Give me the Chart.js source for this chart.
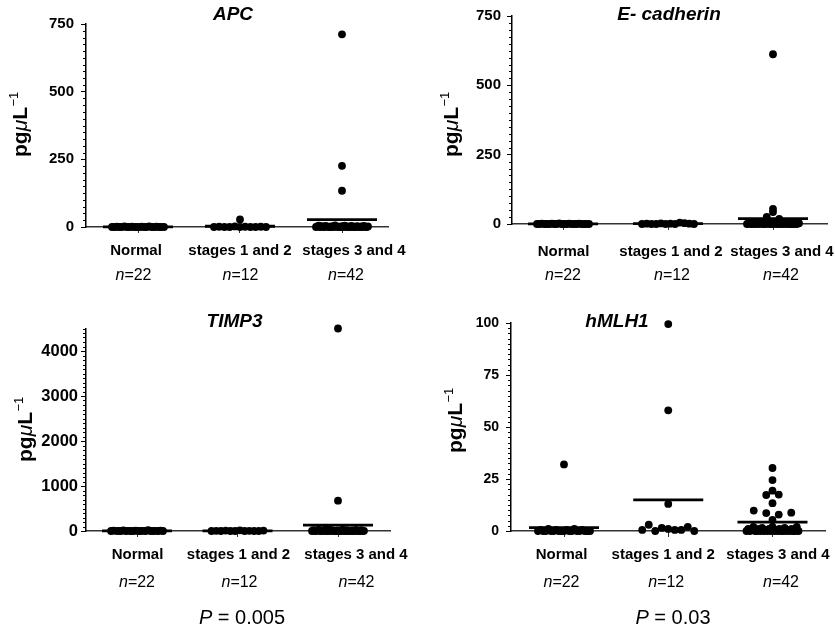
<!DOCTYPE html>
<html><head><meta charset="utf-8">
<script src="https://cdn.jsdelivr.net/npm/chart.js@4.4.1/dist/chart.umd.min.js"></script>
<style>
html,body{margin:0;padding:0;background:#fff}
body{width:835px;height:629px;position:relative;overflow:hidden}
canvas{position:absolute}
</style></head><body>
<canvas id="cAPC" width="420" height="290" style="left:0;top:0;width:420px;height:290px"></canvas>
<canvas id="cECAD" width="415" height="290" style="left:420px;top:0;width:415px;height:290px"></canvas>
<canvas id="cTIMP" width="420" height="339" style="left:0;top:290px;width:420px;height:339px"></canvas>
<canvas id="cHMLH" width="415" height="339" style="left:420px;top:290px;width:415px;height:339px"></canvas>
<script>
// ---------- data ----------
const categories = ['Normal', 'stages 1 and 2', 'stages 3 and 4'];
const nLabels = ['22', '12', '42'];

const apcTicks = [0, 250, 500, 750];
const apcNormal = [0,0,1,0,0,2,0,0,1,0,0,0,1,0,0,2,0,0,1,0,0,0];
const apcStage12 = [0,1,0,0,2,0,1,0,0,28,1,0];
const apcStage34 = [712,226,134,0,2,5,0,3,1,0,4,2,0,1,0,3,0,6,2,0,1,0,3,0,5,1,0,2,0,4,0,1,0,3,1,0,2,0,4,1,0,2];

const ecadTicks = [0, 250, 500, 750];
const ecadNormal = [0,0,1,0,0,0,1,0,0,2,0,0,0,1,0,0,0,1,0,0,0,0];
const ecadStage12 = [0,1,0,0,2,0,1,0,5,3,1,0];
const ecadStage34 = [612,54,43,26,18,0,2,1,0,3,0,1,2,0,4,1,0,2,0,5,1,0,3,0,1,2,0,1,0,3,0,2,1,0,4,0,1,0,2,0,1,3];

const timpTicks = [0, 1000, 2000, 3000, 4000];
const timpNormal = [0,10,5,0,0,15,0,5,0,0,10,0,0,5,0,20,0,0,5,0,10,0];
const timpStage12 = [0,5,0,10,0,0,15,0,5,0,0,10];
const timpStage34 = [4500,673,0,20,5,0,15,30,0,10,0,25,5,0,40,0,10,20,0,5,0,15,0,10,0,30,5,0,20,0,10,0,15,0,5,25,0,10,0,20,0,5];

const hmlhTicks = [0, 25, 50, 75, 100];
const hmlhNormal = [0,0.5,0,0,1,0,0,0.5,0,0,32,0,0.5,0,0,1,0,0,0.5,0,0,0];
const hmlhStage12 = [99.5,58,13,0.5,3,0,1.5,1,0.5,0.5,2,0];
const hmlhStage34 = [30.3,24.5,19.4,17.3,17.5,13.4,9.8,8.6,7.9,8.8,5.3,0,1,0,0.5,2,0,0,1,0,1.5,0,0.5,0,1,0,2,0,0.5,0,1,0,0,1.5,0,0.5,0,1,0,0,2,0];

// ---------- layout ----------
const FONT = '"Liberation Sans", Arial, Helvetica, sans-serif';
const GAP_PX = 2.8, STEP_PX = 12.5, HALF_PX = 26, MEAN_HALF_PX = 35;

const panels = [
  { canvas:'cAPC', x0:0, y0:0, title:'APC', titleX:233, titleY:20,
    groups:[apcNormal, apcStage12, apcStage34], yMax:750, yTicks:apcTicks, minor:25,
    left:86, right:388, top:24, bottom:227, cat1:138, sp:102,
    tickFont:15, tickPad:7, catFont:15, catY:255, catOff:[-2,0,12], nY:280, nOff:[-4.5,0.5,4],
    yTitleX:27, yTitleY:157 },
  { canvas:'cECAD', x0:420, y0:0, title:'E- cadherin', titleX:669, titleY:19.5,
    groups:[ecadNormal, ecadStage12, ecadStage34], yMax:750, yTicks:ecadTicks, minor:25,
    left:512, right:827, top:16, bottom:224, cat1:563, sp:105,
    tickFont:15, tickPad:6, catFont:15, catY:256, catOff:[0.5,3,9], nY:280, nOff:[0,4,8],
    yTitleX:458, yTitleY:157 },
  { canvas:'cTIMP', x0:0, y0:290, title:'TIMP3', titleX:234.5, titleY:327,
    groups:[timpNormal, timpStage12, timpStage34], yMax:4500, yTicks:timpTicks, minor:100,
    left:86, right:390, top:328.5, bottom:531, cat1:137, sp:100.5,
    tickFont:16.5, tickPad:3, catFont:15, catY:559, catOff:[0.5,1,18], nY:587, nOff:[0,2,18.5],
    yTitleX:32, yTitleY:462, pText:'0.005', pX:242, pY:624 },
  { canvas:'cHMLH', x0:420, y0:290, title:'hMLH1', titleX:617, titleY:327,
    groups:[hmlhNormal, hmlhStage12, hmlhStage34], yMax:100, yTicks:hmlhTicks, minor:2.5,
    left:511, right:825, top:323, bottom:531, cat1:564, sp:104.25,
    tickFont:14, tickPad:7, catFont:15, catY:559, catOff:[-2.5,-5,5.5], nY:587, nOff:[-2.5,-2,8.5],
    yTitleX:462, yTitleY:453, pText:'0.03', pX:673, pY:624 }
];
const panelById = {};
panels.forEach(p => panelById[p.canvas] = p);

// column-scatter layout: points at similar values share a row and are spread sideways
function layoutGroup(values, center, pxPerCat, pxPerVal) {
  const idx = values.map((v, i) => i).sort((a, b) => values[a] - values[b] || a - b);
  const rows = []; let cur = []; let prev = null;
  idx.forEach(i => {
    if (prev !== null && (values[i] - prev) * pxPerVal > GAP_PX) { rows.push(cur); cur = []; }
    cur.push(i); prev = values[i];
  });
  if (cur.length) rows.push(cur);
  const xs = new Array(values.length);
  rows.forEach(r => {
    r.sort((a, b) => a - b);
    const k = r.length;
    const sp = k > 1 ? Math.min(STEP_PX, 2 * HALF_PX / (k - 1)) : 0;
    r.forEach((i, j) => { xs[i] = center + ((j - (k - 1) / 2) * sp) / pxPerCat; });
  });
  return values.map((v, i) => ({ x: xs[i], y: v }));
}

const textPlugin = {
  id: 'panelText',
  afterDraw(chart) {
    const p = panelById[chart.canvas.id];
    const ctx = chart.ctx, xs = chart.scales.x, ys = chart.scales.y;
    const ox = p.x0, oy = p.y0;
    ctx.save();
    // minor y ticks
    ctx.strokeStyle = '#000'; ctx.lineWidth = 1;
    const nMinor = Math.round(p.yMax / p.minor);
    for (let i = 0; i <= nMinor; i++) {
      const v = i * p.minor;
      if (p.yTicks.some(t => Math.abs(t - v) < 1e-6)) continue;
      const y = Math.round(ys.getPixelForValue(v)) + 0.5;
      ctx.beginPath(); ctx.moveTo(chart.chartArea.left - 3, y); ctx.lineTo(chart.chartArea.left, y); ctx.stroke();
    }
    ctx.fillStyle = '#000';
    ctx.textBaseline = 'alphabetic';
    // title
    ctx.font = 'italic bold 19px ' + FONT; ctx.textAlign = 'center';
    ctx.fillText(p.title, p.titleX - ox, p.titleY - oy);
    // category labels
    ctx.font = 'bold ' + p.catFont + 'px ' + FONT;
    categories.forEach((c, i) => ctx.fillText(c, xs.getPixelForValue(i + 1) + p.catOff[i], p.catY - oy));
    // n labels
    ctx.textAlign = 'left';
    nLabels.forEach((n, i) => {
      const cx = xs.getPixelForValue(i + 1) + p.nOff[i];
      ctx.font = 'italic 16px ' + FONT; const w1 = ctx.measureText('n').width;
      ctx.font = '16px ' + FONT; const w2 = ctx.measureText('=' + n).width;
      const x = cx - (w1 + w2) / 2;
      ctx.font = 'italic 16px ' + FONT; ctx.fillText('n', x, p.nY - oy);
      ctx.font = '16px ' + FONT; ctx.fillText('=' + n, x + w1, p.nY - oy);
    });
    // y axis title
    ctx.save();
    ctx.translate(p.yTitleX - ox, p.yTitleY - oy); ctx.rotate(-Math.PI / 2);
    let x = 0;
    ctx.font = 'bold 21px ' + FONT; ctx.fillText('pg', x, 0); x += ctx.measureText('pg').width;
    ctx.font = 'italic 21px ' + FONT; ctx.fillText('\u03bc', x, 0); x += ctx.measureText('\u03bc').width;
    ctx.font = 'bold 21px ' + FONT; ctx.fillText('L', x, 0); x += ctx.measureText('L').width + 0.5;
    ctx.font = '13px ' + FONT; ctx.fillText('\u22121', x, -9);
    ctx.restore();
    // P value
    if (p.pText) {
      ctx.font = 'italic 20px ' + FONT; const w1 = ctx.measureText('P').width;
      const s = ' = ' + p.pText;
      ctx.font = '20px ' + FONT; const w2 = ctx.measureText(s).width;
      const px = p.pX - ox - (w1 + w2) / 2;
      ctx.font = 'italic 20px ' + FONT; ctx.fillText('P', px, p.pY - oy);
      ctx.font = '20px ' + FONT; ctx.fillText(s, px + w1, p.pY - oy);
    }
    ctx.restore();
  }
};

Chart.defaults.font.family = FONT;

panels.forEach(p => {
  const cv = document.getElementById(p.canvas);
  const W = cv.width, H = cv.height;
  const xMin = 1 - (p.cat1 - p.left) / p.sp;
  const xMax = xMin + (p.right - p.left) / p.sp;
  const pxPerVal = (p.bottom - p.top) / p.yMax;
  const datasets = [];
  p.groups.forEach((vals, gi) => {
    const c = gi + 1;
    datasets.push({ data: layoutGroup(vals, c, p.sp, pxPerVal), pointRadius: 3.9, pointHoverRadius: 3.9,
      backgroundColor: '#000', borderWidth: 0, clip: false, order: 2 });
    const mean = vals.reduce((a, b) => a + b, 0) / vals.length;
    const hw = MEAN_HALF_PX / p.sp;
    datasets.push({ data: [{ x: c - hw, y: mean }, { x: c + hw, y: mean }], showLine: true,
      borderColor: '#000', borderWidth: 2.8, pointRadius: 0, clip: false, order: 1 });
  });
  new Chart(cv, {
    type: 'scatter',
    data: { datasets },
    options: {
      responsive: false, animation: false, devicePixelRatio: 1, events: [],
      layout: { padding: { left: 0, top: p.top - p.y0, right: p.x0 + W - p.right, bottom: 0 } },
      plugins: { legend: { display: false }, tooltip: { enabled: false } },
      scales: {
        x: { type: 'linear', min: xMin, max: xMax,
          afterBuildTicks: s => { s.ticks = [1, 2, 3].map(v => ({ value: v })); },
          afterFit: s => { s.height = p.y0 + H - p.bottom; },
          ticks: { display: false },
          grid: { drawOnChartArea: false, drawTicks: true, tickLength: 6, color: '#333', lineWidth: 1 },
          border: { display: true, color: '#333', width: 1.6 } },
        y: { type: 'linear', min: 0, max: p.yMax,
          afterBuildTicks: s => { s.ticks = p.yTicks.map(v => ({ value: v })); },
          afterFit: s => { s.width = p.left - p.x0; },
          ticks: { font: { size: p.tickFont, weight: 'bold' }, color: '#000', padding: p.tickPad,
            callback: v => String(v) },
          grid: { drawOnChartArea: false, drawTicks: true, tickLength: 5, color: '#000', lineWidth: 1 },
          border: { display: true, color: '#000', width: 1.5 } }
      }
    },
    plugins: [textPlugin]
  });
});
</script>
</body></html>
